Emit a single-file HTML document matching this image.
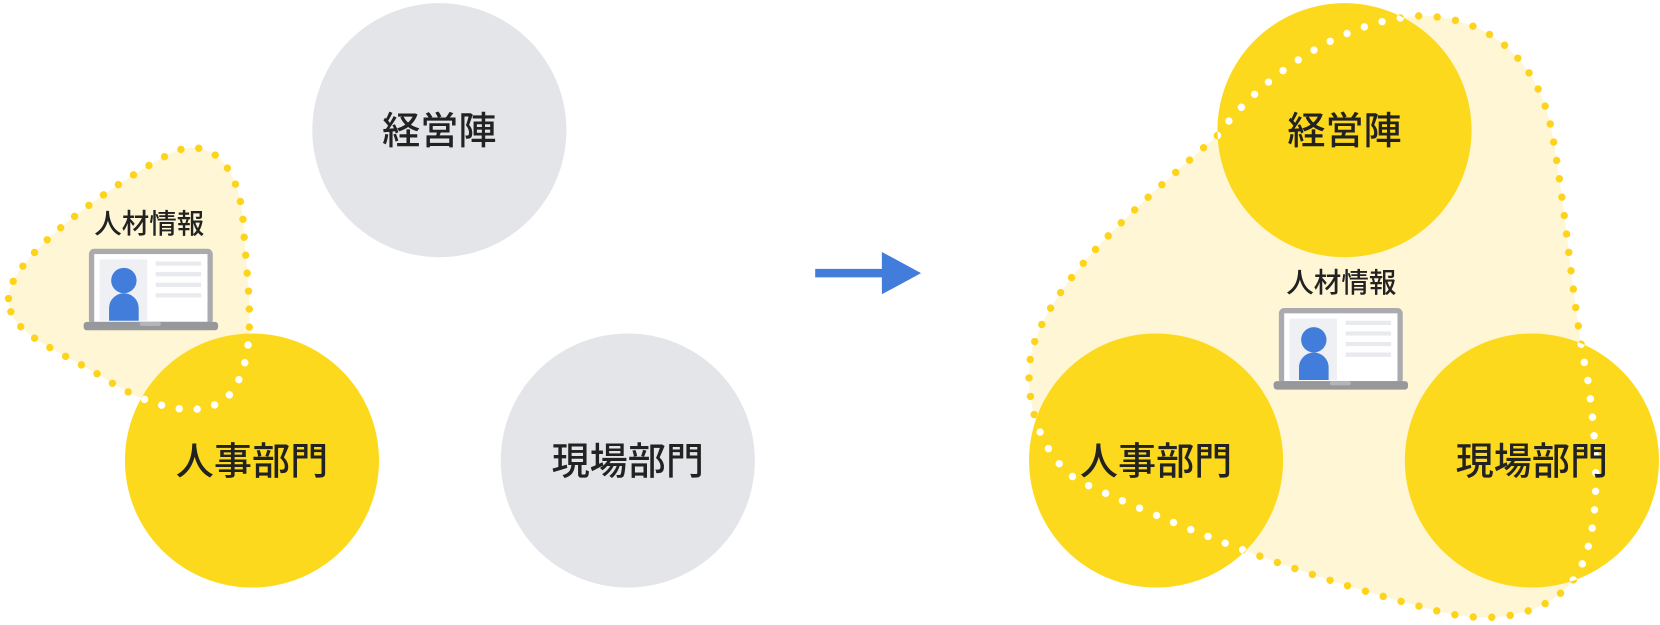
<!DOCTYPE html>
<html><head><meta charset="utf-8"><style>
html,body{margin:0;padding:0;background:#fff;}
svg{display:block;}
text{font-family:"Liberation Sans","Noto Sans CJK JP",sans-serif;fill:#222;font-weight:500;}
</style></head><body>
<svg width="1660" height="625" viewBox="0 0 1568 590.4" preserveAspectRatio="none" xmlns="http://www.w3.org/2000/svg">
<defs>
  <g id="laptop">
    <rect x="5" y="0" width="117" height="72" rx="5" fill="#a9abaf"/>
    <rect x="10" y="5" width="107" height="64" fill="#fff"/>
    <rect x="15" y="10" width="45" height="58" fill="#eef0f4"/>
    <circle cx="38" cy="30" r="12" fill="#437ddc"/>
    <path d="M24 68 V56 A14 14 0 0 1 52 56 V68 Z" fill="#437ddc"/>
    <rect x="68" y="12" width="43" height="4" fill="#e8eaee"/>
    <rect x="68" y="22" width="43" height="4" fill="#e8eaee"/>
    <rect x="68" y="32" width="43" height="4" fill="#e8eaee"/>
    <rect x="68" y="42" width="43" height="4" fill="#e8eaee"/>
    <rect x="0" y="69" width="127" height="8" rx="3" fill="#96989c"/>
    <rect x="53" y="69" width="20" height="4" rx="2" fill="#b3b5b8"/>
  </g>
  <clipPath id="cL"><circle cx="238" cy="435" r="120"/></clipPath>
  <clipPath id="cR">
    <circle cx="1270" cy="123" r="120"/>
    <circle cx="1092" cy="435" r="120"/>
    <circle cx="1447" cy="435" r="120"/>
  </clipPath>
</defs>

<!-- LEFT -->
<path d="M8 282 C8 240 120 165 165 143 C205 128 228 165 230 215 C234 275 246 340 215 375 C188 398 140 385 95 355 C50 328 8 315 8 282 Z" fill="#fef6d5"/>
<path d="M8 282 C8 240 120 165 165 143 C205 128 228 165 230 215 C234 275 246 340 215 375 C188 398 140 385 95 355 C50 328 8 315 8 282 Z" fill="none" stroke="#fdd41b" stroke-width="7" stroke-linecap="round" stroke-dasharray="0 17"/>
<circle cx="415" cy="123" r="120" fill="#e4e5e9"/>
<circle cx="238" cy="435" r="120" fill="#fdd91d"/>
<circle cx="593" cy="435" r="120" fill="#e4e5e9"/>
<path d="M8 282 C8 240 120 165 165 143 C205 128 228 165 230 215 C234 275 246 340 215 375 C188 398 140 385 95 355 C50 328 8 315 8 282 Z" fill="none" stroke="#fff" stroke-width="7" stroke-linecap="round" stroke-dasharray="0 17" clip-path="url(#cL)"/>
<text x="415" y="136" font-size="36" text-anchor="middle">経営陣</text>
<text x="238" y="448" font-size="36" text-anchor="middle">人事部門</text>
<text x="593" y="448" font-size="36" text-anchor="middle">現場部門</text>
<text x="141" y="220" font-size="26" text-anchor="middle">人材情報</text>
<use href="#laptop" x="79" y="235"/>

<!-- ARROW -->
<rect x="770" y="254" width="70" height="8" fill="#437ddc"/>
<polygon points="833,238 870,258 833,278" fill="#437ddc"/>

<!-- RIGHT -->
<path d="M1150 128 C1185 80 1260 20 1340 15 C1400 15 1450 50 1465 120 C1480 200 1485 290 1500 360 C1510 430 1515 520 1480 555 C1450 585 1400 590 1350 575 C1250 550 1140 510 1020 455 C980 430 965 370 975 330 C995 260 1080 190 1150 128 Z" fill="#fef6d5"/>
<path d="M1150 128 C1185 80 1260 20 1340 15 C1400 15 1450 50 1465 120 C1480 200 1485 290 1500 360 C1510 430 1515 520 1480 555 C1450 585 1400 590 1350 575 C1250 550 1140 510 1020 455 C980 430 965 370 975 330 C995 260 1080 190 1150 128 Z" fill="none" stroke="#fdd41b" stroke-width="7" stroke-linecap="round" stroke-dasharray="0 17.5"/>
<circle cx="1270" cy="123" r="120" fill="#fdd91d"/>
<circle cx="1092" cy="435" r="120" fill="#fdd91d"/>
<circle cx="1447" cy="435" r="120" fill="#fdd91d"/>
<path d="M1150 128 C1185 80 1260 20 1340 15 C1400 15 1450 50 1465 120 C1480 200 1485 290 1500 360 C1510 430 1515 520 1480 555 C1450 585 1400 590 1350 575 C1250 550 1140 510 1020 455 C980 430 965 370 975 330 C995 260 1080 190 1150 128 Z" fill="none" stroke="#fff" stroke-width="7" stroke-linecap="round" stroke-dasharray="0 17.5" clip-path="url(#cR)"/>
<text x="1270" y="136" font-size="36" text-anchor="middle">経営陣</text>
<text x="1092" y="448" font-size="36" text-anchor="middle">人事部門</text>
<text x="1447" y="448" font-size="36" text-anchor="middle">現場部門</text>
<text x="1267" y="276" font-size="26" text-anchor="middle">人材情報</text>
<use href="#laptop" x="1203" y="291"/>
</svg>
</body></html>
